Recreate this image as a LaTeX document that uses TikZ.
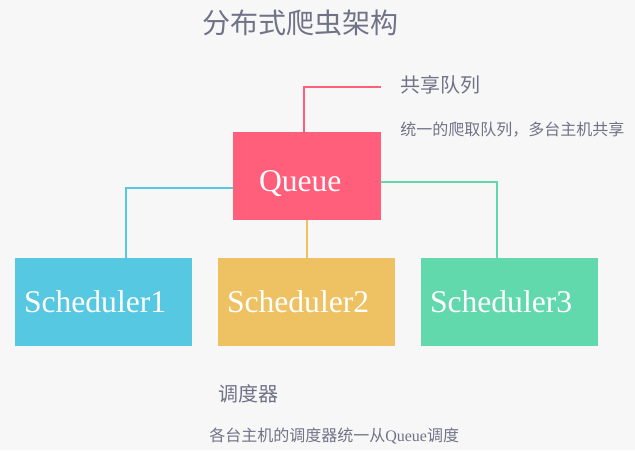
\documentclass[tikz,border=0pt]{standalone}
\usepackage{fontspec}
\usepackage{xcolor}
\setmainfont{Liberation Serif}
\newfontfamily\cjk{Noto Sans CJK SC}
\usetikzlibrary{calc}
\definecolor{bgcol}{HTML}{F7F7F7}
\definecolor{txtcol}{RGB}{112,115,135}
\definecolor{qpink}{HTML}{FF5F7B}
\definecolor{scyan}{HTML}{56C8E1}
\definecolor{syellow}{HTML}{EEC262}
\definecolor{sgreen}{HTML}{61D9AD}

\begin{document}
\begin{tikzpicture}[x=0.75pt,y=-0.75pt,
  box/.style={rectangle,inner sep=0pt,minimum height=66pt,text=white,font=\fontsize{23.7}{23.7}\selectfont,align=left},
  sched/.style={box,text width=119.25pt,inner xsep=6.75pt,minimum width=132.75pt},
  note/.style={inner sep=0pt,text=txtcol},
  wire/.style={line width=1.5pt}]
  \fill[bgcol] (0,0) rectangle (635,450);
  \useasboundingbox (0,0) rectangle (635,450);
  \node[note,font=\cjk\fontsize{21}{21}\selectfont] (title) at (300,22.5) {分布式爬虫架构};
  \node[box,fill=qpink,text width=72pt,inner xsep=19.5pt,minimum width=111pt,text height=23pt,text depth=0pt] (queue) at (307,176) {Queue};
  \node[sched,fill=scyan] (s1) at (103.5,302) {Scheduler1};
  \node[sched,fill=syellow] (s2) at (306.5,302) {Scheduler2};
  \node[sched,fill=sgreen] (s3) at (509.5,302) {Scheduler3};
  \node[note,anchor=west,font=\cjk\fontsize{15}{15}\selectfont] (qhead) at (400,85) {共享队列};
  \node[note,anchor=west,font=\cjk\fontsize{12}{12}\selectfont] (qtext) at (400,130) {统一的爬取队列，多台主机共享};
  \node[note,anchor=west,font=\cjk\fontsize{15}{15}\selectfont] (shead) at (218,394) {调度器};
  \node[note,anchor=west,font=\fontsize{12}{12}\selectfont] (stext) at (209,436.5) {{\cjk 各台主机的调度器统一从}Queue{\cjk 调度}};
  \coordinate (qend) at (381,87);
  \draw[wire,qpink] ($(queue.north)+(-3,0)$) |- (qend);
  \draw[wire,scyan] ($(queue.west)+(0,12)$) -| ($(s1.north)+(22.5,0)$);
  \draw[wire,syellow] (queue.south) -- (queue.south |- s2.north);
  \draw[wire,sgreen] ($(queue.east)+(0,6)$) -| ($(s3.north)+(-12.5,0)$);
\end{tikzpicture}
\end{document}
